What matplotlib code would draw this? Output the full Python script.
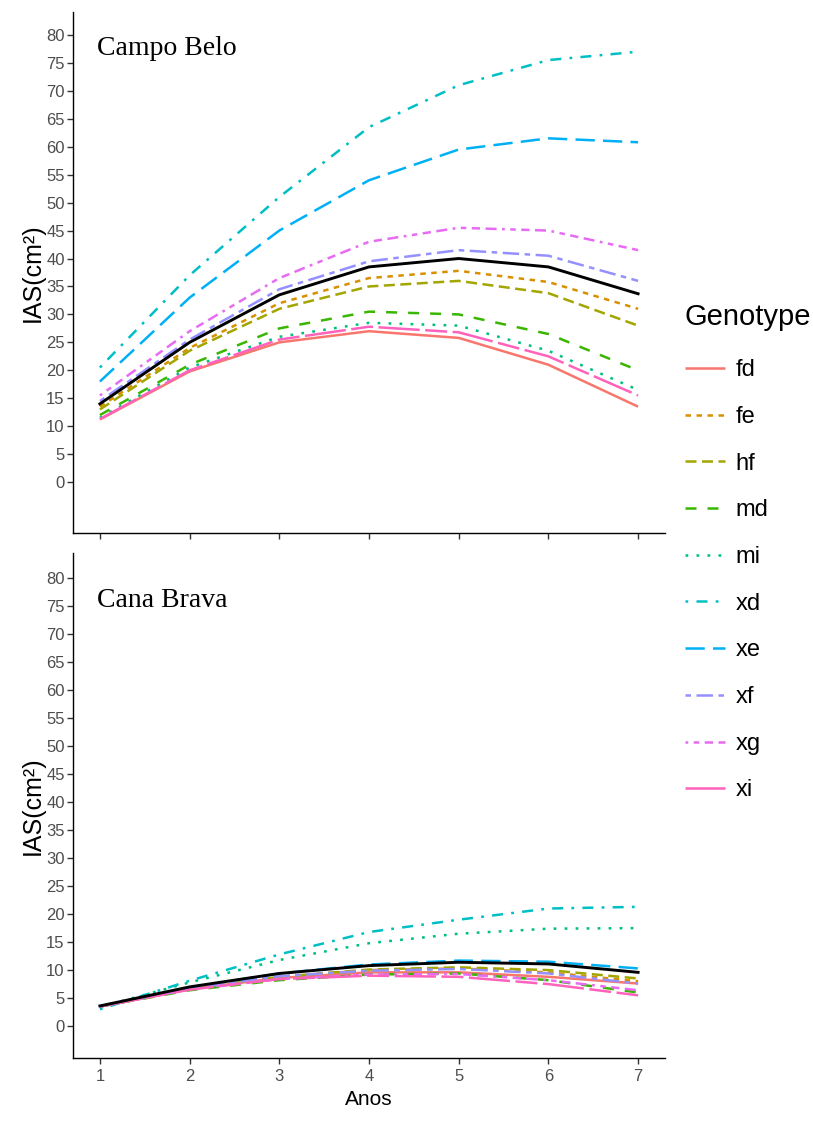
import matplotlib
matplotlib.use("Agg")
import matplotlib.pyplot as plt
from matplotlib.lines import Line2D

years = [1, 2, 3, 4, 5, 6, 7]
genotypes = ["fd", "fe", "hf", "md", "mi", "xd", "xe", "xf", "xg", "xi"]
colors = ["#F8766D", "#D89000", "#A3A500", "#39B600", "#00BF7D",
          "#00BFC4", "#00B0F6", "#9590FF", "#E76BF3", "#FF62BC"]
# ggplot default linetypes ("solid", "22", "42", "44", "13", "1343", ...)
dash_patterns = [None, (2, 2), (4, 2), (4, 4), (1, 3), (1, 3, 4, 3),
                 (7, 3), (2, 2, 6, 2), (1, 2, 2, 2, 3, 2, 4, 2), (15, 2, 8, 2)]
y_ticks = list(range(0, 85, 5))

# Campo Belo
cb_fd = [11.2, 19.8, 25.0, 27.0, 25.8, 21.0, 13.5]
cb_fe = [13.5, 24.0, 32.0, 36.5, 37.8, 35.8, 31.0]
cb_hf = [13.0, 23.5, 31.0, 35.0, 36.0, 33.8, 28.0]
cb_md = [12.0, 21.0, 27.5, 30.5, 30.0, 26.5, 20.0]
cb_mi = [11.5, 20.5, 26.0, 28.5, 28.0, 23.5, 16.5]
cb_xd = [20.5, 37.0, 51.0, 63.5, 71.0, 75.5, 77.0]
cb_xe = [18.0, 33.0, 45.0, 54.0, 59.5, 61.5, 60.8]
cb_xf = [14.5, 25.5, 34.5, 39.5, 41.5, 40.5, 36.0]
cb_xg = [15.5, 27.0, 36.5, 43.0, 45.5, 45.0, 41.5]
cb_xi = [11.3, 20.0, 25.5, 27.8, 26.8, 22.5, 15.5]
cb_mean = [14.0, 25.0, 33.5, 38.5, 40.0, 38.5, 33.7]

# Cana Brava
cv_fd = [3.5, 6.6, 8.6, 9.6, 9.6, 8.8, 7.6]
cv_fe = [3.5, 6.6, 8.8, 10.0, 10.3, 9.6, 8.0]
cv_hf = [3.5, 6.6, 8.8, 10.1, 10.5, 10.0, 8.5]
cv_md = [3.5, 6.4, 8.2, 9.2, 9.4, 8.2, 6.0]
cv_mi = [3.4, 7.8, 11.8, 14.8, 16.5, 17.4, 17.5]
cv_xd = [3.0, 8.1, 12.8, 16.8, 19.0, 21.0, 21.3]
cv_xe = [3.5, 6.9, 9.4, 11.0, 11.7, 11.5, 10.3]
cv_xf = [3.5, 6.7, 8.9, 9.9, 10.2, 9.4, 7.6]
cv_xg = [3.5, 6.6, 8.4, 9.2, 9.3, 8.2, 6.4]
cv_xi = [3.5, 6.5, 8.4, 9.0, 8.8, 7.5, 5.5]
cv_mean = [3.6, 7.0, 9.4, 10.8, 11.4, 11.1, 9.6]

panels = [
    ("Campo Belo", 77.5, [cb_fd, cb_fe, cb_hf, cb_md, cb_mi, cb_xd, cb_xe, cb_xf, cb_xg, cb_xi], cb_mean),
    ("Cana Brava", 76.0, [cv_fd, cv_fe, cv_hf, cv_md, cv_mi, cv_xd, cv_xe, cv_xf, cv_xg, cv_xi], cv_mean),
]

LW = 1.8
TXT = "#4D4D4D"
plt.rcParams["font.family"] = ["Liberation Sans", "DejaVu Sans"]

fig = plt.figure(figsize=(8.13, 11.35), dpi=100)
W, H = 813, 1135
boxes = [(73, 12, 665, 533), (73, 553, 665, 1058)]  # px: left, top, right, bottom
ylims = [(-9.1, 84.1), (-5.7, 84.5)]

for i, ((site, ty, series, mean), (l, t, r, b)) in enumerate(zip(panels, boxes)):
    ax = fig.add_axes([l / W, 1 - b / H, (r - l) / W, (b - t) / H])
    for vals, c, d in zip(series, colors, dash_patterns):
        ln, = ax.plot(years, vals, color=c, lw=LW, solid_capstyle="butt",
                      dash_capstyle="butt")
        if d is not None:
            ln.set_dashes([v * 1.1 for v in d])
    ax.plot(years, mean, color="black", lw=LW + 0.3)
    ax.set_xlim(0.7, 7.3)
    ax.set_ylim(*ylims[i])
    ax.set_yticks(y_ticks)
    ax.set_xticks(years)
    for s in ("top", "right"):
        ax.spines[s].set_visible(False)
    for s in ("left", "bottom"):
        ax.spines[s].set_linewidth(1.0)
        ax.spines[s].set_color("black")
    ax.tick_params(colors="#333333", labelcolor=TXT, labelsize=12,
                   length=4, width=1.0, pad=2)
    ax.tick_params(axis="x", pad=4)
    ax.set_ylabel("IAS(cm²)", fontsize=18, color="black", labelpad=1)
    ax.text(0.97, ty, site, fontsize=20, family="Liberation Serif",
            color="black", va="center")
    if i == 0:
        ax.tick_params(labelbottom=False)
    else:
        ax.set_xlabel("Anos", fontsize=15, color="black", labelpad=4)

handles = []
for g, c, d in zip(genotypes, colors, dash_patterns):
    h = Line2D([], [], color=c, lw=LW, solid_capstyle="butt", dash_capstyle="butt")
    if d is not None:
        h.set_dashes([v * 1.1 for v in d])
    handles.append(h)
leg = fig.legend(handles, genotypes, title="Genotype", loc="center left",
                 bbox_to_anchor=(666 / W, 1 - 552 / H), frameon=False,
                 fontsize=17, title_fontsize=21, handlelength=1.7,
                 labelspacing=1.045, handletextpad=0.45, borderpad=0.3)
leg._legend_box.align = "left"
leg._legend_box.sep = 17 * 1.045 + 3  # gap under the title

fig.savefig("out.png", dpi=100)
